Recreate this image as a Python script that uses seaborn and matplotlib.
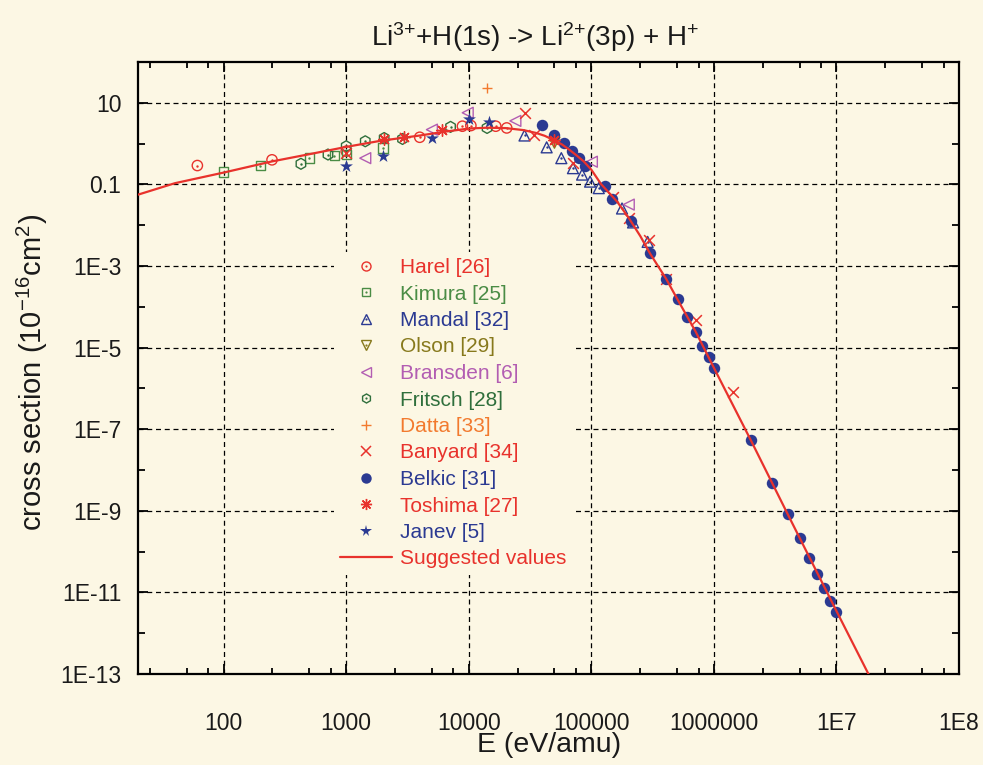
import matplotlib
matplotlib.use("Agg")
import matplotlib.pyplot as plt
import seaborn as sns
from matplotlib.lines import Line2D
from matplotlib.legend_handler import HandlerTuple
from matplotlib.ticker import FixedLocator, FixedFormatter, NullFormatter

# ---------------- data ----------------
harel_E = [61, 248, 1000, 3980, 8870, 10400, 16600, 20400]
harel_s = [0.29, 0.40, 0.65, 1.43, 2.67, 2.77, 2.67, 2.42]

kimura_E = [100, 199, 500, 800, 1000, 2000]
kimura_s = [0.20, 0.29, 0.44, 0.51, 0.54, 0.78]

mandal_E = [28500, 43200, 56900, 70800, 84100, 97700, 115000, 178000, 219000, 288000]
mandal_s = [1.58, 0.81, 0.44, 0.25, 0.174, 0.117, 0.081, 0.0257, 0.0117, 0.0039]

olson_E = [50000]
olson_s = [1.05]

bransden_E = [1430, 5000, 9800, 24000, 101000, 202000]
bransden_s = [0.44, 2.2, 5.7, 3.6, 0.36, 0.032]

fritsch_E = [427, 710, 1000, 1430, 2040, 2880, 7100, 14100]
fritsch_s = [0.32, 0.54, 0.86, 1.14, 1.37, 1.30, 2.57, 2.42]

datta_E = [14000]
datta_s = [23.4]

banyard_E = [1000, 28500, 34000, 70800, 151000, 202000, 295000, 403000, 708000, 1440000]
banyard_s = [0.59, 5.7, 1.66, 0.33, 0.05, 0.0148, 0.0044, 4.9e-4, 4.7e-5, 8.3e-7]

belkic_E = [39800, 49600, 59700, 70000, 79400, 89100, 130000, 148000, 209000, 302000,
            407000, 507000, 603000, 708000, 794000, 912000, 1.0e6, 2.0e6, 3.0e6, 4.0e6,
            5.07e6, 6.0e6, 7.0e6, 7.9e6, 8.9e6, 1.0e7]
belkic_s = [2.8, 1.66, 1.03, 0.65, 0.44, 0.275, 0.089, 0.044, 0.0126, 0.00204,
            4.9e-4, 1.58e-4, 5.6e-5, 2.4e-5, 1.12e-5, 5.75e-6, 3.1e-6, 5.4e-8, 4.7e-9, 8.3e-10,
            2.1e-10, 7.1e-11, 2.75e-11, 1.26e-11, 6.3e-12, 3.3e-12]

toshima_E = [2040, 2950, 6100, 50000]
toshima_s = [1.32, 1.43, 2.2, 1.2]

janev_E = [1000, 2000, 5000, 10000, 14600]
janev_s = [0.29, 0.49, 1.38, 4.1, 3.4]

curve_E = [20, 40, 100, 245, 500, 1000, 1900, 4000, 6300, 10000, 14000, 20000, 28000,
           35500, 41700, 50000, 57500, 66000, 76000, 87000, 100000, 120000, 162000,
           200000, 251000, 302000, 407000, 501000, 708000, 1.0e6, 2.0e6, 4.0e6, 1.0e7, 2.0e7]
curve_s = [0.056, 0.107, 0.195, 0.363, 0.55, 0.83, 1.17, 1.58, 1.95, 2.34, 2.45, 2.40, 2.14,
           1.82, 1.55, 1.20, 0.955, 0.71, 0.51, 0.363, 0.229, 0.102, 0.038,
           0.0158, 0.0054, 2.0e-3, 4.9e-4, 1.58e-4, 2.5e-5, 3.2e-6, 5.4e-8, 8.3e-10, 3.5e-12, 5.8e-14]

x_major = [1e2, 1e3, 1e4, 1e5, 1e6, 1e7, 1e8]
x_labels = ["100", "1000", "10000", "100000", "1000000", "1E7", "1E8"]
y_major = [1e-13, 1e-11, 1e-9, 1e-7, 1e-5, 1e-3, 1e-1, 1e1]
y_labels = ["1E-13", "1E-11", "1E-9", "1E-7", "1E-5", "1E-3", "0.1", "10"]
y_minor = [1e-12, 1e-10, 1e-8, 1e-6, 1e-4, 1e-2, 1, 1e2]
x_minor_mult = [2.5, 5, 7.5]
x_decades = [10, 1e2, 1e3, 1e4, 1e5, 1e6, 1e7]

title = r"Li$^{3{+}}$+H(1s) -> Li$^{2{+}}$(3p) + H$^{+}$"
xlabel = "E (eV/amu)"
ylabel = r"cross section (10$^{-16}$cm$^{2}$)"

# ---------------- style ----------------
RED = "#e8322c"
GREEN_K = "#4a8c45"
GREEN_F = "#2f6f3c"
NAVY = "#2b3a92"
OLIVE = "#87791c"
PURPLE = "#b25db2"
ORANGE = "#f27a2e"
BG = "#fcf7e4"

sns.set_style("ticks")
plt.rcParams["font.family"] = ["Liberation Sans", "DejaVu Sans"]
plt.rcParams["mathtext.fontset"] = "custom"
plt.rcParams["mathtext.rm"] = "Liberation Sans"
plt.rcParams["mathtext.it"] = "Liberation Sans:italic"
plt.rcParams["mathtext.bf"] = "Liberation Sans:bold"
plt.rcParams["mathtext.default"] = "regular"

fig = plt.figure(figsize=(9.83, 7.65), dpi=100, facecolor=BG)
W, H = 983, 765
L, R, T, B = 138, 959, 62, 674
ax = fig.add_axes([L / W, 1 - B / H, (R - L) / W, (B - T) / H])
ax.set_facecolor(BG)
ax.set_xscale("log")
ax.set_yscale("log")
ax.set_xlim(20, 1e8)
ax.set_ylim(1e-13, 100)


def scat(E, s, marker, color, size, hollow=True, lw=1.0, dot=False):
    sns.scatterplot(x=E, y=s, ax=ax, marker=marker, s=size, color=color,
                    linewidth=lw, legend=False, zorder=3)
    coll = ax.collections[-1]
    if hollow:
        coll.set_facecolor("none")
        coll.set_edgecolor(color)
        coll.set_linewidth(lw)
    if dot:
        sns.scatterplot(x=E, y=s, ax=ax, marker="o", s=3, color=color,
                        linewidth=0, legend=False, zorder=3)


scat(harel_E, harel_s, "o", RED, 55, dot=True)
scat(kimura_E, kimura_s, "s", GREEN_K, 45, dot=True)
scat(mandal_E, mandal_s, "^", NAVY, 62, dot=True)
scat(olson_E, olson_s, "v", OLIVE, 62, dot=True)
scat(bransden_E, bransden_s, "<", PURPLE, 62)
scat(fritsch_E, fritsch_s, "h", GREEN_F, 62, dot=True)
scat(datta_E, datta_s, "+", ORANGE, 60, hollow=False, lw=1.0)
scat(banyard_E, banyard_s, "x", RED, 60, hollow=False, lw=1.1)
scat(belkic_E, belkic_s, "o", NAVY, 68, hollow=False, lw=0)
scat(toshima_E, toshima_s, (8, 2, 0), RED, 70, hollow=False, lw=1.0)
scat(janev_E, janev_s, "*", NAVY, 95, hollow=False, lw=0)

sns.lineplot(x=curve_E, y=curve_s, ax=ax, color=RED, linewidth=1.6, sort=False,
             estimator=None, legend=False, zorder=4)

# ---------------- axes formatting ----------------
ax.xaxis.set_major_locator(FixedLocator(x_major))
ax.xaxis.set_major_formatter(FixedFormatter(x_labels))
x_minor = [m * d for d in x_decades for m in x_minor_mult if 20 <= m * d <= 1e8]
ax.xaxis.set_minor_locator(FixedLocator(x_minor))
ax.xaxis.set_minor_formatter(NullFormatter())
ax.yaxis.set_major_locator(FixedLocator(y_major))
ax.yaxis.set_major_formatter(FixedFormatter(y_labels))
ax.yaxis.set_minor_locator(FixedLocator(y_minor))
ax.yaxis.set_minor_formatter(NullFormatter())

ax.tick_params(which="both", direction="in", top=True, right=True, color="black",
               width=1.3, labelsize=16.5, labelcolor="#1a1a1a")
ax.tick_params(which="major", length=7.5)
ax.tick_params(axis="x", which="minor", length=4)
ax.tick_params(axis="y", which="minor", length=5)
ax.tick_params(axis="x", which="major", pad=27)
ax.tick_params(axis="y", which="major", pad=12)

for sp in ax.spines.values():
    sp.set_linewidth(1.6)
    sp.set_color("black")
    sp.set_visible(True)

ax.grid(True, which="major", color="black", linestyle=(0, (4, 3)), linewidth=0.9)
ax.grid(False, which="minor")

ax.set_xlabel(xlabel, fontsize=20.5, color="#1a1a1a")
ax.set_ylabel(ylabel, fontsize=21, color="#1a1a1a")
ax.xaxis.set_label_coords((549 - L) / (R - L), (B - 732) / (B - T))
ax.yaxis.set_label_coords((50 - L) / (R - L), (B - 372) / (B - T))

fig.text(535 / W, 1 - 37 / H, title, ha="center", va="center", fontsize=20, color="#1a1a1a")

# ---------------- legend ----------------
def mk(marker, color, size, filled=False, mew=1.0):
    return Line2D([], [], ls="none", marker=marker, markersize=size,
                  markerfacecolor=color if filled else "none",
                  markeredgecolor=color, markeredgewidth=mew)


def dotted(marker, color, size):
    return (mk(marker, color, size), mk("o", color, 1.6, filled=True, mew=0))


handles = [
    dotted("o", RED, 6.5),
    dotted("s", GREEN_K, 5.8),
    dotted("^", NAVY, 6.5),
    dotted("v", OLIVE, 6.5),
    mk("<", PURPLE, 6.5),
    dotted("h", GREEN_F, 6.5),
    mk("+", ORANGE, 7),
    mk("x", RED, 7, mew=1.1),
    mk("o", NAVY, 7.5, filled=True, mew=0),
    mk((8, 2, 0), RED, 8),
    mk("*", NAVY, 8.5, filled=True, mew=0),
    Line2D([], [], color=RED, linewidth=1.6),
]
labels = ["Harel [26]", "Kimura [25]", "Mandal [32]", "Olson [29]", "Bransden [6]",
          "Fritsch [28]", "Datta [33]", "Banyard [34]", "Belkic [31]", "Toshima [27]",
          "Janev [5]", "Suggested values"]
lcolors = [RED, GREEN_K, NAVY, OLIVE, PURPLE, GREEN_F, ORANGE, RED, NAVY, RED, NAVY, RED]

fs = 15
bp = 0.3
bp_px = bp * fs * 100 / 72
leg = ax.legend(handles, labels, handler_map={tuple: HandlerTuple(ndivide=1)},
                loc="upper left",
                bbox_to_anchor=((340 - bp_px) / W, 1 - (258 - bp_px) / H),
                bbox_transform=fig.transFigure, frameon=True, fancybox=False,
                facecolor=BG, edgecolor="none", framealpha=1.0, fontsize=fs,
                handlelength=2.5, handletextpad=0.4, labelspacing=0.36,
                borderpad=bp, borderaxespad=0)
for t, c in zip(leg.get_texts(), lcolors):
    t.set_color(c)

fig.savefig("out.png", dpi=100, facecolor=BG)
